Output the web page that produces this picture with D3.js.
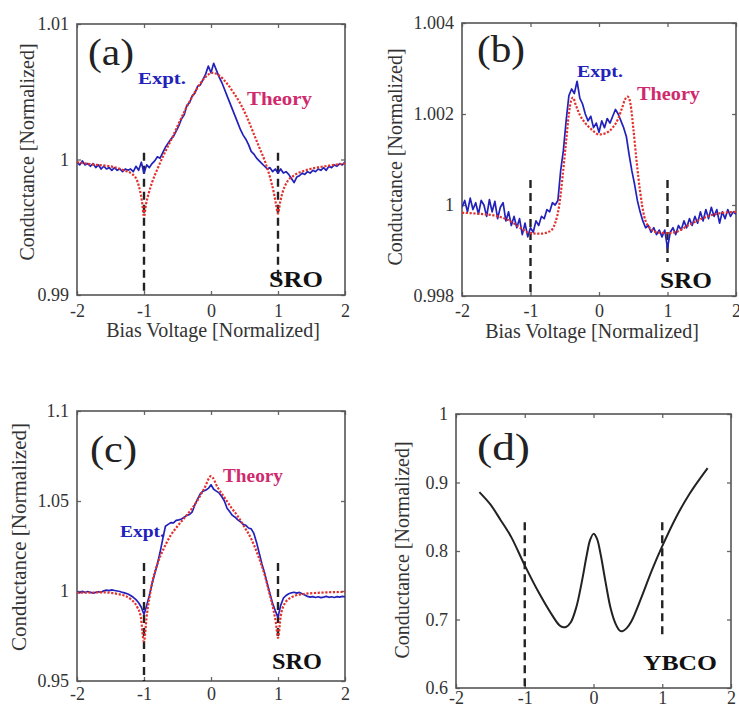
<!DOCTYPE html>
<html><head><meta charset="utf-8">
<script src="https://cdn.jsdelivr.net/npm/d3@7"></script>
<style>body{margin:0;background:#fff}svg{display:block}text{font-family:"Liberation Serif","Times New Roman",serif}</style>
</head><body><svg id="c" width="739" height="711"></svg>
<script>
// ---------- shared ----------
const biasTicks = [-2, -1, 0, 1, 2];
const biasTickLabels = ["-2", "-1", "0", "1", "2"];
const gapMarks = [-1, 1];
// sample positions of the measured curves (bias, normalized)
const exptBias = d3.range(0, 101).map(i => -2 + i * 0.04);

// ---------- panel (a) ----------
const aYTicks = [0.99, 1, 1.01];
const aYTickLabels = ["0.99", "1", "1.01"];
const aExpt = [0.9998,0.9996,0.9999,0.9996,0.9997,0.9995,0.9997,0.9994,0.9996,0.9993,
0.9995,0.9993,0.9994,0.9992,0.9994,0.9992,0.9993,0.9991,0.9993,0.9992,
0.9993,0.9991,0.9995,0.9992,0.9998,0.9990,0.9996,0.9994,0.9997,0.9999,
1.0002,1.0001,1.0005,1.0009,1.0012,1.0015,1.0017,1.0021,1.0025,1.0030,
1.0033,1.0040,1.0042,1.0047,1.0049,1.0054,1.0055,1.0059,1.0063,1.0069,
1.0064,1.0071,1.0066,1.0061,1.0057,1.0052,1.0047,1.0042,1.0037,1.0032,
1.0027,1.0022,1.0018,1.0015,1.0011,1.0006,1.0004,1.0001,0.9999,0.9997,
0.9995,0.9993,0.9994,0.9991,0.9993,0.9990,0.9993,0.9990,0.9991,0.9989,
0.9986,0.9983,0.9987,0.9988,0.9990,0.9989,0.9991,0.9990,0.9992,0.9991,
0.9993,0.9992,0.9994,0.9992,0.9995,0.9994,0.9996,0.9995,0.9997,0.9996,0.9998];
const aTheoryBias = [-2,-1.7,-1.5,-1.3,-1.17,-1.1,-1.06,-1.03,-1.0,-0.97,-0.93,-0.88,-0.8,-0.7,-0.57,-0.45,-0.36,-0.25,-0.16,-0.08,0.02,0.12,0.24,0.34,0.43,0.53,0.63,0.72,0.81,0.88,0.94,0.97,1.0,1.03,1.07,1.13,1.23,1.35,1.48,1.7,2.0];
const aTheory = [0.9998,0.9996,0.9995,0.9992,0.9989,0.9984,0.9977,0.9969,0.9958,0.9967,0.9975,0.9983,0.9993,1.0004,1.0017,1.0030,1.0039,1.0049,1.0056,1.0061,1.0064,1.0062,1.0056,1.0049,1.0042,1.0032,1.0020,1.0009,0.9998,0.9987,0.9975,0.9967,0.9960,0.9968,0.9976,0.9983,0.9988,0.9991,0.9993,0.9995,0.9997];

// ---------- panel (b) ----------
const bYTicks = [0.998, 1, 1.002, 1.004];
const bYTickLabels = ["0.998", "1", "1.002", "1.004"];
const bExpt = [0.99995,1.00010,0.99985,1.00015,0.99990,1.00005,0.99980,1.00010,1.00000,0.99975,
1.00012,0.99985,1.00008,0.99970,0.99995,1.00005,0.99965,0.99985,0.99955,0.99975,
0.99950,0.99970,0.99935,0.99960,0.99930,0.99950,0.99940,0.99965,0.99955,0.99975,
0.99970,0.99990,0.99985,1.00005,1.00000,1.00010,1.00075,1.00120,1.00185,1.00240,
1.00255,1.00245,1.00272,1.00235,1.00222,1.00200,1.00185,1.00195,1.00170,1.00180,
1.00160,1.00185,1.00170,1.00190,1.00180,1.00195,1.00210,1.00200,1.00185,1.00170,
1.00150,1.00110,1.00075,1.00045,1.00010,0.99985,0.99965,0.99950,0.99955,0.99940,
0.99950,0.99935,0.99945,0.99930,0.99945,0.99905,0.99940,0.99950,0.99935,0.99955,
0.99945,0.99965,0.99950,0.99970,0.99955,0.99975,0.99960,0.99985,0.99965,0.99990,
0.99970,0.99995,0.99975,0.99990,0.99960,0.99985,0.99970,0.99990,0.99975,0.99985,0.99980];
const bTheoryBias = [-2,-1.7,-1.5,-1.3,-1.15,-1.0,-0.85,-0.72,-0.64,-0.58,-0.53,-0.48,-0.44,-0.41,-0.38,-0.34,-0.28,-0.2,-0.1,0,0.1,0.2,0.28,0.34,0.38,0.42,0.46,0.5,0.55,0.6,0.66,0.74,0.85,1.0,1.15,1.3,1.5,1.7,2.0];
const bTheory = [0.99983,0.99980,0.99976,0.99965,0.99950,0.99938,0.99937,0.99942,0.99960,1.00000,1.00065,1.00140,1.00200,1.00228,1.00236,1.00220,1.00198,1.00180,1.00165,1.00155,1.00158,1.00170,1.00190,1.00215,1.00232,1.00238,1.00222,1.00170,1.00095,1.00030,0.99975,0.99950,0.99940,0.99938,0.99942,0.99955,0.99970,0.99980,0.99985];

// ---------- panel (c) ----------
const cYTicks = [0.95, 1, 1.05, 1.1];
const cYTickLabels = ["0.95", "1", "1.05", "1.1"];
const cExpt = [0.9995,0.9990,0.9998,0.9992,0.9997,0.9993,0.9988,0.9992,0.9996,0.9993,
1.0001,1.0005,1.0002,1.0006,1.0003,1.0000,0.9997,0.9992,0.9988,0.9983,
0.9975,0.9965,0.9952,0.9935,0.9910,0.9870,0.9920,0.9975,1.0040,1.0095,
1.0150,1.0215,1.0290,1.0360,1.0370,1.0380,1.0378,1.0392,1.0395,1.0400,
1.0410,1.0420,1.0425,1.0440,1.0480,1.0510,1.0540,1.0555,1.0560,1.0570,
1.0590,1.0565,1.0555,1.0545,1.0525,1.0500,1.0460,1.0440,1.0420,1.0410,
1.0395,1.0385,1.0370,1.0365,1.0350,1.0345,1.0320,1.0270,1.0210,1.0150,
1.0100,1.0040,0.9985,0.9930,0.9890,0.9855,0.9920,0.9960,0.9975,0.9985,
0.9990,0.9993,0.9988,0.9992,0.9985,0.9978,0.9970,0.9966,0.9969,0.9964,
0.9968,0.9963,0.9966,0.9970,0.9965,0.9968,0.9964,0.9969,0.9966,0.9970,0.9968];
const cTheoryBias = [-2,-1.6,-1.35,-1.2,-1.1,-1.05,-1.0,-0.96,-0.92,-0.87,-0.8,-0.7,-0.6,-0.5,-0.4,-0.3,-0.2,-0.1,0,0.1,0.2,0.3,0.4,0.5,0.6,0.7,0.8,0.87,0.93,0.97,1.0,1.04,1.1,1.2,1.35,1.6,2.0];
const cTheory = [0.9990,0.9992,0.9980,0.9955,0.9910,0.9860,0.9720,0.9860,0.9960,1.0060,1.0150,1.0240,1.0310,1.0360,1.0405,1.0450,1.0505,1.0570,1.0638,1.0575,1.0520,1.0465,1.0415,1.0355,1.0290,1.0200,1.0090,0.9990,0.9900,0.9820,0.9740,0.9860,0.9930,0.9965,0.9982,0.9990,0.9995];

// ---------- panel (d) ----------
const dYTicks = [0.6, 0.7, 0.8, 0.9, 1];
const dYTickLabels = ["0.6", "0.7", "0.8", "0.9", "1"];
const dBias = [-1.66,-1.5,-1.35,-1.2,-1.0,-0.8,-0.6,-0.5,-0.45,-0.4,-0.33,-0.25,-0.17,-0.1,-0.05,0,0.05,0.1,0.18,0.25,0.32,0.38,0.42,0.48,0.55,0.7,0.85,1.0,1.2,1.4,1.66];
const dCurve = [0.886,0.868,0.845,0.821,0.779,0.740,0.706,0.692,0.689,0.689,0.696,0.718,0.755,0.793,0.816,0.825,0.818,0.797,0.752,0.716,0.694,0.684,0.683,0.687,0.697,0.733,0.772,0.807,0.849,0.884,0.921];

// ---------- drawing ----------
const svg = d3.select("#c");
const BLUE = "#2222bb", RED = "#e3302c", PINK = "#cf2a6e", INK = "#222";

function drawPanel(p) {
  const x = d3.scaleLinear().domain([-2, 2]).range([p.x0, p.x1]);
  const y = d3.scaleLinear().domain(p.yDomain).range([p.y1, p.y0]);
  const g = svg.append("g");
  const id = "clip" + p.key;
  svg.append("clipPath").attr("id", id).append("rect")
    .attr("x", p.x0).attr("y", p.y0).attr("width", p.x1 - p.x0).attr("height", p.y1 - p.y0);

  // axes (inward ticks)
  const ax = g.append("g").attr("transform", `translate(0,${p.y1})`)
    .call(d3.axisBottom(x).tickValues(biasTicks).tickFormat((d, i) => biasTickLabels[i]).tickSize(-4).tickPadding(p.xPad));
  const axT = g.append("g").attr("transform", `translate(0,${p.y0})`)
    .call(d3.axisTop(x).tickValues(biasTicks).tickFormat("").tickSize(-4));
  const ay = g.append("g").attr("transform", `translate(${p.x0},0)`)
    .call(d3.axisLeft(y).tickValues(p.yTicks).tickFormat((d, i) => p.yTickLabels[i]).tickSize(-4).tickPadding(8));
  const ayR = g.append("g").attr("transform", `translate(${p.x1},0)`)
    .call(d3.axisRight(y).tickValues(p.yTicks).tickFormat("").tickSize(-4));
  [ax, axT, ay, ayR].forEach(a => {
    a.select(".domain").remove();
    a.selectAll("line").attr("stroke", "#666").attr("stroke-width", 1.3);
    a.selectAll("text").attr("fill", "#333").style("font-size", "18px")
      .style("font-family", '"Liberation Serif","Times New Roman",serif');
  });
  g.append("rect").attr("x", p.x0).attr("y", p.y0).attr("width", p.x1 - p.x0).attr("height", p.y1 - p.y0)
    .attr("fill", "none").attr("stroke", "#555").attr("stroke-width", 1.6);

  const plot = g.append("g").attr("clip-path", `url(#${id})`);
  // dashed gap markers
  plot.selectAll("line.gap").data(gapMarks).enter().append("line")
    .attr("x1", d => x(d)).attr("x2", d => x(d))
    .attr("y1", y(p.gapTop)).attr("y2", (d, i) => y(p.gapBottom[i]))
    .attr("stroke", INK).attr("stroke-width", 2.4).attr("stroke-dasharray", "8,5");

  const line = d3.line().x(d => x(d[0])).y(d => y(d[1]));
  if (p.expt) {
    plot.append("path").datum(exptBias.map((b, i) => [b, p.expt[i]]))
      .attr("d", line).attr("fill", "none").attr("stroke", BLUE).attr("stroke-width", 1.7)
      .attr("stroke-linejoin", "round");
  }
  if (p.theory) {
    plot.append("path").datum(p.theoryBias.map((b, i) => [b, p.theory[i]]))
      .attr("d", line.curve(d3.curveMonotoneX)).attr("fill", "none").attr("stroke", RED)
      .attr("stroke-width", 2.2).attr("stroke-dasharray", "2.2,1.6");
  }
  if (p.curve) {
    plot.append("path").datum(p.curveBias.map((b, i) => [b, p.curve[i]]))
      .attr("d", d3.line().x(d => x(d[0])).y(d => y(d[1])).curve(d3.curveCatmullRom.alpha(0.5)))
      .attr("fill", "none").attr("stroke", INK).attr("stroke-width", 2);
  }

  // titles
  g.append("text").attr("transform", `translate(${p.yTitle[0]},${p.yTitle[1]}) rotate(-90)`)
    .attr("text-anchor", "middle").attr("dy", "0.35em").attr("fill", "#333")
    .style("font-size", p.yTitle[2] + "px").text("Conductance [Normalized]");
  if (p.xTitle) {
    g.append("text").attr("x", p.xTitle[0]).attr("y", p.xTitle[1]).attr("text-anchor", "middle")
      .attr("fill", "#333").style("font-size", "20px").text("Bias Voltage [Normalized]");
  }
  // annotations
  p.labels.forEach(l => {
    const t = g.append("text").attr("x", l.x).attr("y", l.y).attr("fill", l.c)
      .style("font-size", l.s + "px").style("font-weight", l.b ? "bold" : "normal").text(l.t);
    if (l.w) t.attr("textLength", l.w).attr("lengthAdjust", "spacingAndGlyphs");
  });
}

drawPanel({key: "a", x0: 77, x1: 345, y0: 24, y1: 295, yDomain: [0.99, 1.01], xPad: 9,
  yTicks: aYTicks, yTickLabels: aYTickLabels, expt: aExpt, theory: aTheory, theoryBias: aTheoryBias,
  gapTop: 1.0005, gapBottom: [0.99, 0.9912], yTitle: [27, 152, 20], xTitle: [213, 337],
  labels: [
    {t: "(a)", x: 88, y: 65, s: 38, c: INK, w: 46},
    {t: "Expt.", x: 138, y: 84, s: 17, b: 1, c: BLUE, w: 48},
    {t: "Theory", x: 247, y: 105, s: 18, b: 1, c: PINK, w: 65},
    {t: "SRO", x: 269, y: 287, s: 24, b: 1, c: "#111", w: 54}]});

drawPanel({key: "b", x0: 462, x1: 736, y0: 23, y1: 296, yDomain: [0.998, 1.004], xPad: 8,
  yTicks: bYTicks, yTickLabels: bYTickLabels, expt: bExpt, theory: bTheory, theoryBias: bTheoryBias,
  gapTop: 1.00055, gapBottom: [0.998, 0.99875], yTitle: [395, 157, 20], xTitle: [592, 338],
  labels: [
    {t: "(b)", x: 477, y: 62, s: 38, c: INK, w: 48},
    {t: "Expt.", x: 577, y: 77, s: 17, b: 1, c: BLUE, w: 46},
    {t: "Theory", x: 637, y: 100, s: 18, b: 1, c: PINK, w: 63},
    {t: "SRO", x: 660, y: 288, s: 24, b: 1, c: "#111", w: 52}]});

drawPanel({key: "c", x0: 77, x1: 345, y0: 411, y1: 681, yDomain: [0.95, 1.1], xPad: 6,
  yTicks: cYTicks, yTickLabels: cYTickLabels, expt: cExpt, theory: cTheory, theoryBias: cTheoryBias,
  gapTop: 1.0156, gapBottom: [0.95, 0.9740], yTitle: [19, 537, 21],
  labels: [
    {t: "(c)", x: 90, y: 462, s: 38, c: INK, w: 47},
    {t: "Expt.", x: 120, y: 537, s: 17, b: 1, c: BLUE, w: 45},
    {t: "Theory", x: 223, y: 482, s: 18, b: 1, c: PINK, w: 60},
    {t: "SRO", x: 272, y: 669, s: 24, b: 1, c: "#111", w: 50}]});

drawPanel({key: "d", x0: 456, x1: 731, y0: 414, y1: 688, yDomain: [0.6, 1.0], xPad: 3,
  yTicks: dYTicks, yTickLabels: dYTickLabels, curve: dCurve, curveBias: dBias,
  gapTop: 0.842, gapBottom: [0.6, 0.674], yTitle: [402, 550, 20],
  labels: [
    {t: "(d)", x: 477, y: 460, s: 38, c: INK, w: 53},
    {t: "YBCO", x: 643, y: 670, s: 22, b: 1, c: "#111", w: 74}]});
</script></body></html>
